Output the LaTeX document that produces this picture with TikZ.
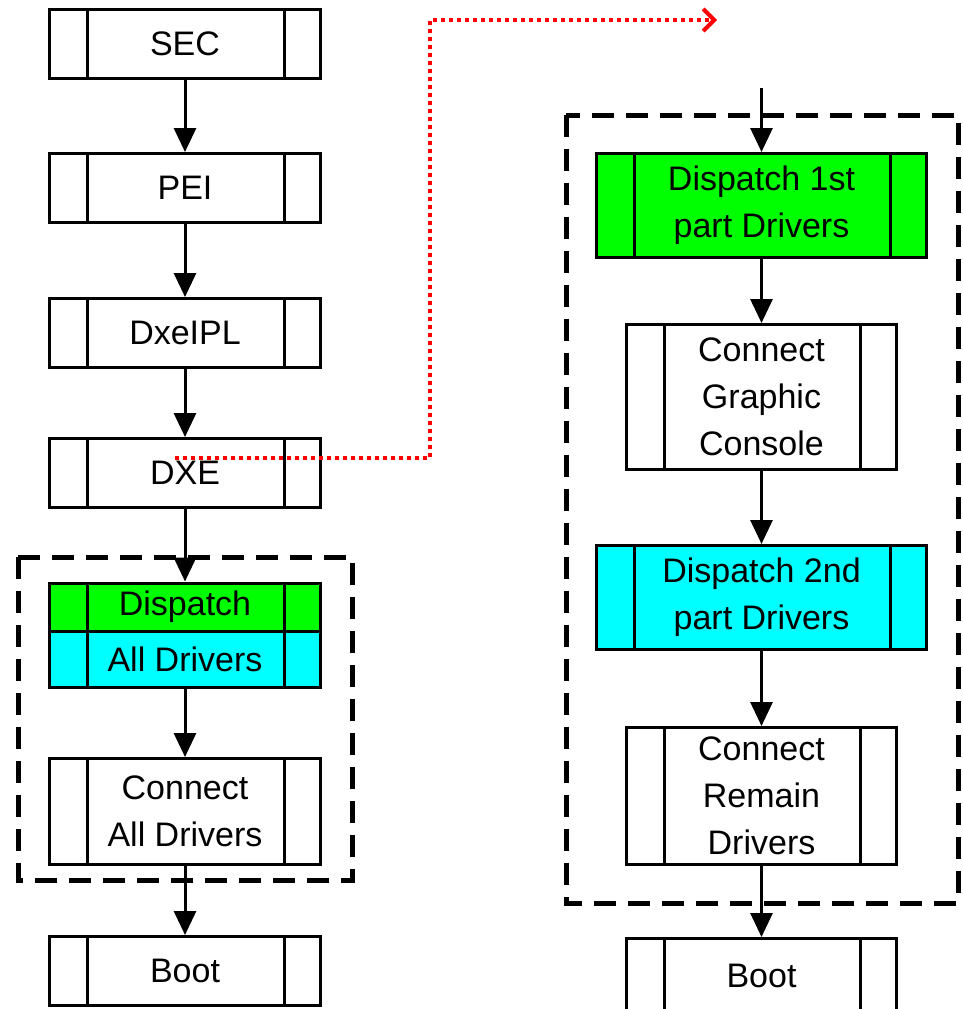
\documentclass[tikz,border=0pt]{standalone}
\usepackage{fontspec}
\setmainfont{Liberation Sans}
\usetikzlibrary{arrows.meta}
\definecolor{verde}{RGB}{0,255,0}
\definecolor{cian}{RGB}{0,255,255}
\tikzset{
  proceso/.style={draw, line width=3pt, align=center, inner sep=0pt,
    minimum width=271pt, minimum height=69pt,
    font=\fontsize{34}{47}\selectfont,
    path picture={
      \draw[line width=3pt] ([xshift=38pt]path picture bounding box.north west) -- ([xshift=38pt]path picture bounding box.south west);
      \draw[line width=3pt] ([xshift=-36pt]path picture bounding box.north east) -- ([xshift=-36pt]path picture bounding box.south east);
    }},
  flecha/.style={line width=3pt, -{Triangle[width=22pt,length=24pt]}},
  marco/.style={line width=5pt, dash pattern=on 22pt off 12pt},
  salto/.style={red, line width=4pt, dash pattern=on 4pt off 4pt,
    -{Straight Barb[length=11pt,width=22pt,line width=4pt]}}
}
\begin{document}
\begin{tikzpicture}[x=1pt,y=-1pt]
		\useasboundingbox (0,0) rectangle (963,1009);
		
		% marcos discontinuos
		\draw[marco] (18,557) rectangle (352,880);
		\draw[marco] (566,115) rectangle (958,903);
		
		% columna izquierda
		\node[proceso] (sec) at (185,44) {SEC};
		\node[proceso] (pei) at (185,188) {PEI};
		\node[proceso] (ipl) at (185,333) {DxeIPL};
		\node[proceso] (dxe) at (185,473) {DXE};
		\node[proceso, fill=verde, minimum height=48pt] (disp) at (185,607) {Dispatch};
		\node[proceso, fill=cian, minimum height=56pt] (todos) at (185,659) {All Drivers};
		\node[proceso, minimum height=106pt] (conall) at (185,811.5) {Connect\\All Drivers};
		\node[proceso] (bootizq) at (185,971) {Boot};
		
		% columna derecha
		\node[proceso, fill=verde, minimum width=330pt, minimum height=104pt] (disp1) at (761.5,205.5) {Dispatch 1st\\part Drivers};
		\node[proceso, minimum width=270pt, minimum height=145pt] (congc) at (761.5,397) {Connect\\Graphic\\Console};
		\node[proceso, fill=cian, minimum width=330pt, minimum height=104pt] (disp2) at (761.5,597.5) {Dispatch 2nd\\part Drivers};
		\node[proceso, minimum width=270pt, minimum height=137pt] (conrem) at (761.5,796) {Connect\\Remain\\Drivers};
		\node[proceso, minimum width=270pt, minimum height=74pt] (bootder) at (761.5,975.5) {Boot};
		
		% flechas
		\draw[flecha] (sec) -- (pei);
		\draw[flecha] (pei) -- (ipl);
		\draw[flecha] (ipl) -- (dxe);
		\draw[flecha] (dxe) -- (disp);
		\draw[flecha] (todos) -- (conall);
		\draw[flecha] (conall) -- (bootizq);
		
		\coordinate (entrada) at (761.5,88);
		\draw[flecha] (entrada) -- (disp1);
		\draw[flecha] (disp1) -- (congc);
		\draw[flecha] (congc) -- (disp2);
		\draw[flecha] (disp2) -- (conrem);
		\draw[flecha] (conrem) -- (bootder);
		
		% salto de DXE
		\coordinate (inicio) at ([xshift=-10pt,yshift=15pt]dxe.center);
		\coordinate (esquina) at (430,20);
		\coordinate (fin) at (717,20);
		\draw[salto] (inicio) -| (esquina) -- (fin);
	\end{tikzpicture}
\end{document}
